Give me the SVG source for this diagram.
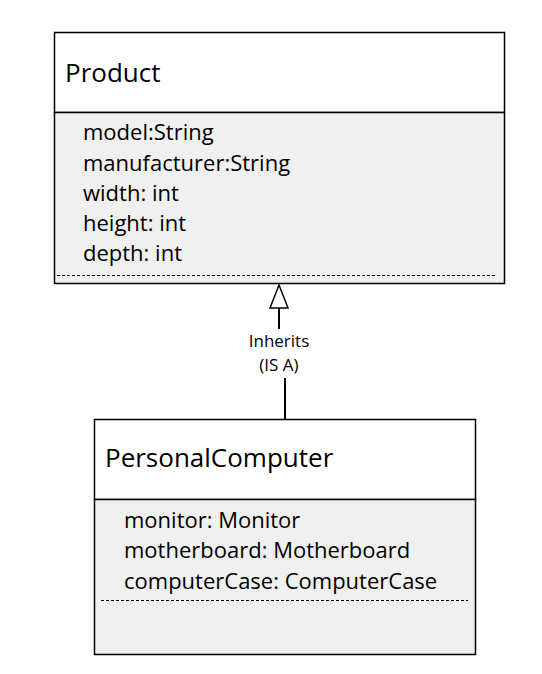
<svg xmlns="http://www.w3.org/2000/svg" width="542" height="674" viewBox="0 0 542 674">
<style>
.box{fill:#ffffff;stroke:#000;stroke-width:1.5}
.body{fill:#f0f0f0;stroke:#000;stroke-width:1.5}
.dash{stroke:#000;stroke-width:1;stroke-dasharray:3,2;fill:none}
.title{font-family:"Open Sans","Liberation Sans",sans-serif;font-size:26px;fill:#000}
.attr{font-family:"Open Sans","Liberation Sans",sans-serif;font-size:22px;fill:#000}
.lbl{font-family:"Open Sans","Liberation Sans",sans-serif;font-size:17px;fill:#000;text-anchor:middle}
.conn{stroke:#000;stroke-width:2;fill:none}
</style>
<rect width="542" height="674" fill="#ffffff"/>
<g id="product">
<rect class="box" x="54.5" y="32.5" width="450" height="80"/>
<rect class="body" x="54.5" y="112.5" width="450" height="171"/>
<line class="dash" x1="57" y1="275.5" x2="497" y2="275.5"/>
<text class="title" x="65" y="82">Product</text>
<text class="attr" x="83" y="140">model:String</text>
<text class="attr" x="83" y="171">manufacturer:String</text>
<text class="attr" x="83" y="201">width: int</text>
<text class="attr" x="83" y="231">height: int</text>
<text class="attr" x="83" y="261">depth: int</text>
</g>
<g id="personalcomputer">
<rect class="box" x="94.5" y="419.5" width="381" height="80"/>
<rect class="body" x="94.5" y="499.5" width="381" height="155"/>
<line class="dash" x1="101" y1="600.5" x2="468" y2="600.5"/>
<text class="title" x="105" y="467">PersonalComputer</text>
<text class="attr" x="124" y="528">monitor: Monitor</text>
<text class="attr" x="124" y="558">motherboard: Motherboard</text>
<text class="attr" x="124" y="589">computerCase: ComputerCase</text>
</g>
<g id="connectors">
<polygon points="279,285 270,308 288,308" fill="#ffffff" stroke="#000" stroke-width="1.5"/>
<line class="conn" x1="279" y1="308" x2="279" y2="329"/>
<line class="conn" x1="285" y1="378" x2="285" y2="419"/>
<text class="lbl" x="279" y="347">Inherits</text>
<text class="lbl" x="279" y="371">(IS A)</text>
</g>
</svg>
